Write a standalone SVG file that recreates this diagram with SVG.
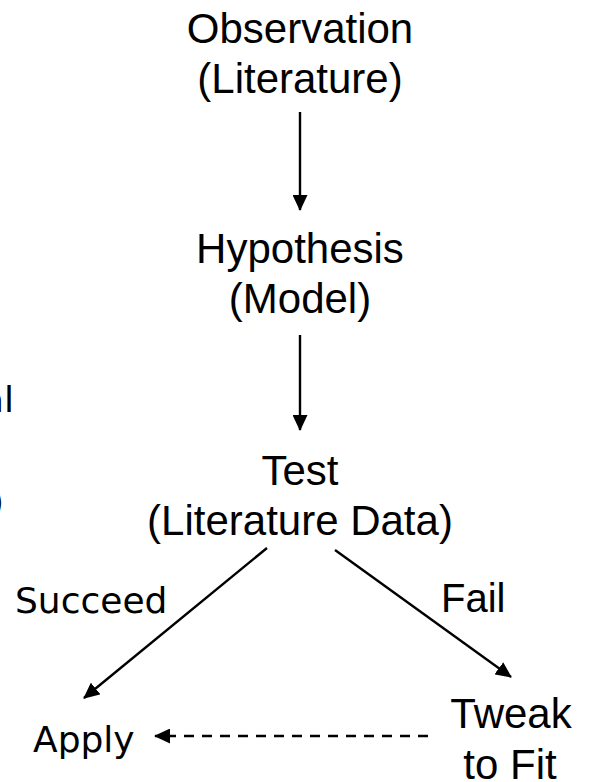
<svg xmlns="http://www.w3.org/2000/svg" width="591" height="782" viewBox="0 0 591 782">
  <style>
    .node { font-family: "Liberation Sans", Arial, sans-serif; font-size: 42px; fill: #000; text-anchor: middle; }
    .lbl { font-family: "Liberation Sans", Arial, sans-serif; font-size: 40px; fill: #000; }
    .dv { font-family: "DejaVu Sans", sans-serif; font-size: 36px; fill: #000; }
    .edge { stroke: #000; stroke-width: 2.4; fill: none; marker-end: url(#head); }
    .dash { stroke-dasharray: 10 8; }
  </style>
  <defs>
    <marker id="head" viewBox="0 0 16 15" refX="15" refY="7.5" markerWidth="16" markerHeight="15" markerUnits="userSpaceOnUse" orient="auto">
      <path d="M0,0 L16,7.5 L0,15 z" fill="#000"/>
    </marker>
  </defs>
  <rect width="591" height="782" fill="#fff"/>

  <!-- cut-off text at the left margin -->
  <text class="dv" x="14" y="412" text-anchor="end">al</text>
  <text class="dv" x="4" y="514" text-anchor="end">)</text>

  <g id="observation">
    <text class="node" x="300" y="43">Observation</text>
    <text class="node" x="300" y="93">(Literature)</text>
  </g>
  <g id="hypothesis">
    <text class="node" x="300" y="263">Hypothesis</text>
    <text class="node" x="300" y="313">(Model)</text>
  </g>
  <g id="test">
    <text class="node" x="300" y="485">Test</text>
    <text class="node" x="300" y="535">(Literature Data)</text>
  </g>
  <g id="apply">
    <text class="dv" x="33" y="752">Apply</text>
  </g>
  <g id="tweak">
    <text class="node" x="511" y="728">Tweak</text>
    <text class="node" x="510" y="779">to Fit</text>
  </g>

  <g id="connectors">
    <line class="edge" x1="300" y1="112" x2="300" y2="210"/>
    <line class="edge" x1="300" y1="335" x2="300" y2="430"/>
    <line class="edge" x1="267" y1="548" x2="84" y2="698"/>
    <line class="edge" x1="335" y1="550" x2="511" y2="677"/>
    <line class="edge dash" x1="428" y1="736" x2="155" y2="736"/>
    <text class="dv" x="15" y="613">Succeed</text>
    <text class="lbl" x="441" y="612">Fail</text>
  </g>
</svg>
